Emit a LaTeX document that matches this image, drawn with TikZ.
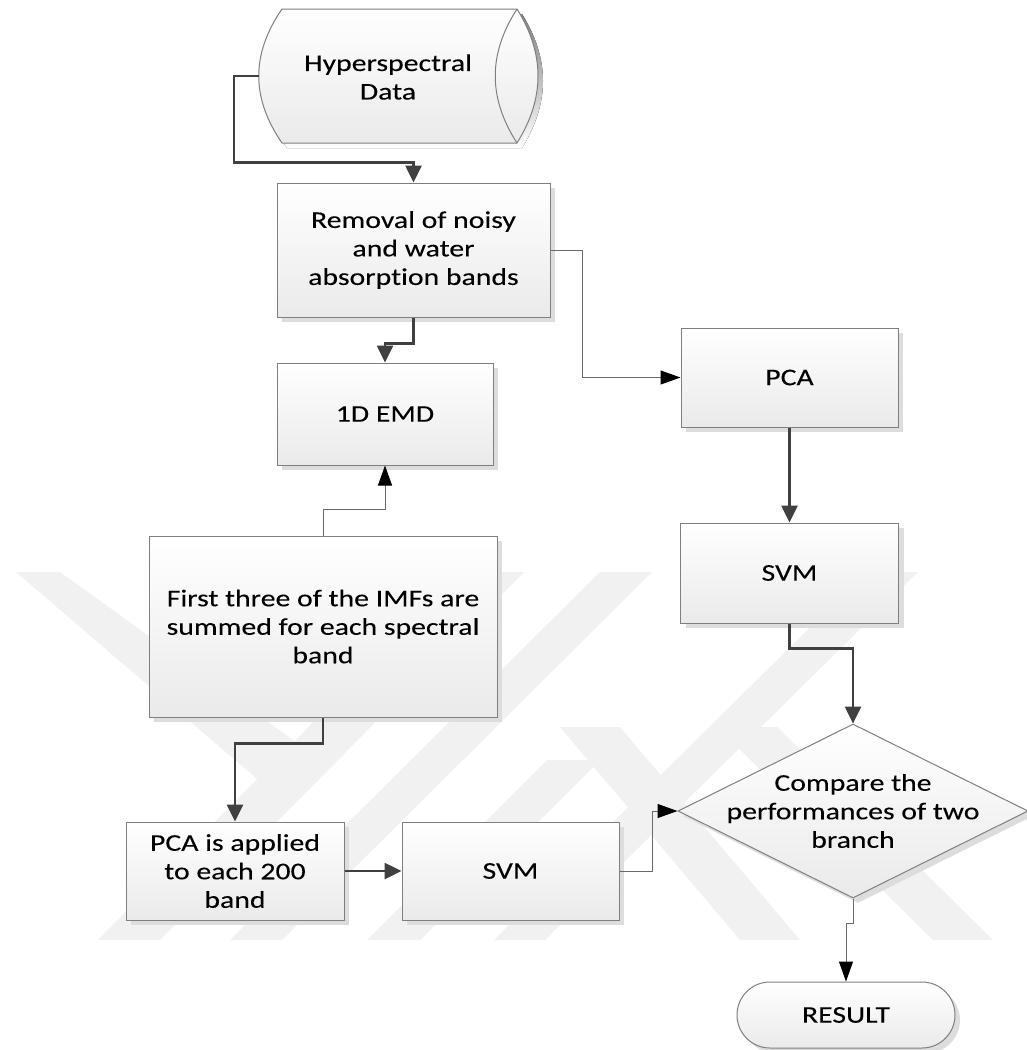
\documentclass[tikz,border=0pt]{standalone}
\usepackage{fontspec}
\setmainfont{Carlito}[FakeStretch=1.24,FakeBold=0.12,Ligatures=NoCommon]
\usetikzlibrary{arrows.meta,shapes.geometric,shapes.misc,shadows,calc}
\definecolor{wmark}{HTML}{F1F1F1}
\definecolor{edge}{HTML}{7F7F7F}
\definecolor{thickln}{HTML}{404040}
\definecolor{thinln}{HTML}{6A6A6A}
\definecolor{boxbot}{HTML}{EAEAEA}
\definecolor{shade}{HTML}{DDDDDD}
\begin{document}
\begin{tikzpicture}[x=1pt,y=-1pt,
  every node/.style={font=\fontsize{24}{28.5}\selectfont, align=center, text=black},
  shadowed/.style={drop shadow={shadow xshift=5pt,shadow yshift=-5pt,fill=shade,opacity=1}},
  procbox/.style={rectangle, draw=edge, line width=1pt, top color=white,
    bottom color=boxbot, shadowed, inner sep=0pt},
  thickflow/.style={draw=thickln, line width=2.6pt,
    -{Triangle[length=17pt,width=16pt]}},
  thinflow/.style={draw=thinln, line width=1pt,
    -{Triangle[length=20pt,width=14pt,color=black]}},
]
\useasboundingbox (0,0) rectangle (1027,1050);
\fill[white] (0,0) rectangle (1027,1050);

% faint background emblem
\begin{scope}[wmark]
  \fill (16,572) -- (60,572) -- (300,745) -- (270,790) -- cycle;
  \fill (98,940) -- (160,940) -- (524,572) -- (462,572) -- cycle;
  \fill (230,940) -- (282,940) -- (652,572) -- (600,572) -- cycle;
  \fill (367,940) -- (420,940) -- (600,760) -- (547,760) -- cycle;
  \fill (494,940) -- (545,940) -- (918,572) -- (866,572) -- cycle;
  \fill (717,727) -- (777,727) -- (993,940) -- (933,940) -- cycle;
  \fill (560,727) -- (620,727) -- (800,940) -- (740,940) -- cycle;
\end{scope}

% stored-data shape
\fill[shade, shift={(5,5)}] (282,9) -- (517,9) .. controls (545,54) and (545,98) .. (517,143)
  -- (282,143) .. controls (251,98) and (251,54) .. (282,9) -- cycle;
\path[draw=edge, line width=1pt, top color=white, bottom color=boxbot]
  (282,9) -- (517,9) .. controls (545,54) and (545,98) .. (517,143)
  -- (282,143) .. controls (251,98) and (251,54) .. (282,9) -- cycle;
\draw[edge, line width=1pt] (517,9) .. controls (488,54) and (488,98) .. (517,143);
\node[inner sep=0pt, minimum width=279pt, minimum height=134pt] (hsd) at (398.5,76) {};
\node (hsdtxt) at (388,77) {Hyperspectral\\Data};

% process boxes
\node[procbox, minimum width=273pt, minimum height=134pt] (rem) at (413.5,250)
  {Removal of noisy\\and water\\absorption bands};
\node[procbox, minimum width=216pt, minimum height=102pt] (emd) at (385,414) {1D EMD};
\node[procbox, minimum width=348pt, minimum height=181pt] (first) at (323,626.5)
  {First three of the IMFs are\\summed for each spectral\\band};
\node[procbox, minimum width=218pt, minimum height=98pt] (pcab) at (235,871)
  {PCA is applied\\to each 200\\band};
\node[procbox, minimum width=217pt, minimum height=98pt] (svmb) at (510.5,871) {SVM};
\node[procbox, minimum width=217pt, minimum height=99pt] (pca) at (789.5,377.5) {PCA};
\node[procbox, minimum width=218pt, minimum height=100pt] (svma) at (789.5,573) {SVM};

% decision and terminal
\node[diamond, draw=edge, line width=1pt, top color=white, bottom color=boxbot, shadowed,
  inner sep=0pt, minimum width=350pt, minimum height=174pt] (cmp) at (853,811) {};
\node (cmptxt) at (cmp.center) {Compare the\\performances of two\\branch};
\node[rounded rectangle, draw=edge, line width=1pt, top color=white, bottom color=boxbot,
  shadowed, inner sep=0pt, minimum width=218pt, minimum height=66pt] (res) at (846,1015) {RESULT};

% connectors
\draw[thickflow] (hsd.west) -- ++(-25,0) |- ([yshift=20pt]rem.north) -- (rem.north);
\draw[thinflow] (rem.east) -- ++(32,0) |- (pca.west);
\draw[thickflow] (rem.south) -- ++(0,26) -| (emd.north);
\draw[thinflow] (first.north) -- ++(0,-26) -| (emd.south);
\draw[thickflow] (first.south) -- ++(0,26) -| (pcab.north);
\draw[thickflow] (pcab.east) -- (svmb.west);
\draw[thinflow] (svmb.east) -- ++(33,0) |- (cmp.west);
\draw[thickflow] (pca.south) -- (svma.north);
\draw[thickflow] (svma.south) -- ++(0,25) -| (cmp.north);
\draw[thinflow] (cmp.south) -- ++(0,25) -| (res.north);
\end{tikzpicture}
\end{document}
